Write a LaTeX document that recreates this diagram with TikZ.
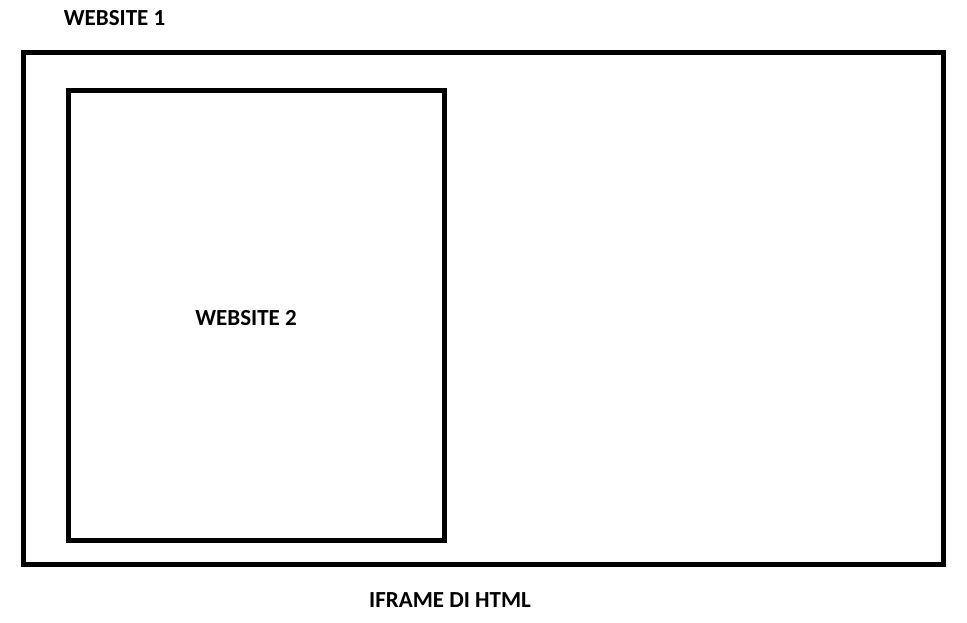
\documentclass[tikz,border=0pt]{standalone}
\usepackage{fontspec}
\setmainfont{Carlito}
\usetikzlibrary{positioning}

\tikzset{
  frame/.style={draw, line width=5pt, inner sep=0pt},
  caption/.style={font=\fontsize{23}{25}\selectfont\bfseries, inner sep=0pt}
}

\begin{document}
\begin{tikzpicture}[x=1pt, y=-1pt]
  \useasboundingbox (0,0) rectangle (967,623);

  \node [frame, minimum width=920pt, minimum height=512pt] (site1) at (483.5,308.5) {};
  \node [frame, minimum width=376pt, minimum height=450pt] (site2) at (256.5,315.5) {};

  \node [caption] (site1label) at (114.5,18.5) {WEBSITE 1};
  \node [caption] (site2label) at (246,318.5) {WEBSITE 2};
  \node [caption, below=25pt of site1.south, xshift=-33.5pt] (iframe) {IFRAME DI HTML};
\end{tikzpicture}
\end{document}
